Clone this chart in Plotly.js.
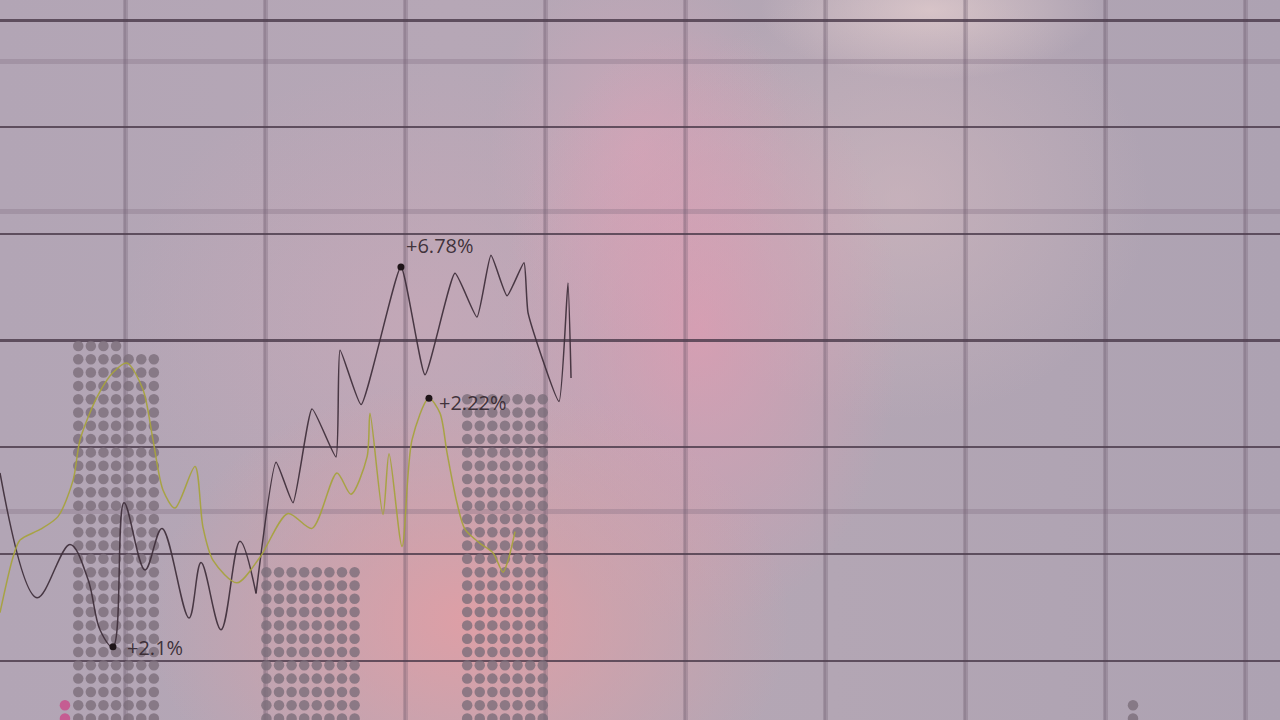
<!DOCTYPE html>
<html>
<head>
<meta charset="utf-8">
<script src="https://cdn.plot.ly/plotly-3.0.1.min.js"></script>
<style>
  html, body { margin: 0; padding: 0; background: #b0a4b2; overflow: hidden; }
  #chart {
    width: 1280px; height: 720px;
    background:
      radial-gradient(ellipse 170px 70px at 930px 10px, rgba(230,208,208,0.7), rgba(230,208,208,0) 100%),
      radial-gradient(ellipse 320px 240px at 470px 620px, rgba(226,158,164,0.9), rgba(226,158,164,0) 100%),
      radial-gradient(ellipse 200px 300px at 700px 330px, rgba(224,156,178,0.75), rgba(224,156,178,0) 100%),
      radial-gradient(ellipse 150px 200px at 640px 150px, rgba(222,166,186,0.55), rgba(222,166,186,0) 100%),
      radial-gradient(ellipse 250px 220px at 900px 200px, rgba(214,186,192,0.55), rgba(214,186,192,0) 100%),
      radial-gradient(ellipse 300px 260px at 420px 320px, rgba(208,168,184,0.5), rgba(208,168,184,0) 100%),
      linear-gradient(90deg, #b2a5b5 0%, #b6a7b6 35%, #b3a6b4 65%, #ada2b2 100%);
  }
</style>
</head>
<body>
<div id="chart"></div>
<script>
// ---- data (time in minutes, value in %) ----
const darkTime = [-8.93, -6.29, -3.93, -2.64, -1.79, -0.86, -0.07, 1.43, 2.64, 4.57, 5.43, 6.86, 8.21, 9.36,
                  10.79, 12.00, 13.36, 15.07, 15.36, 16.86, 19.71, 21.43, 23.57, 25.14, 26.14, 27.29, 28.50, 28.79, 31.00, 31.64, 31.86];
const darkValue = [1.76, 0.59, 1.09, 0.76, 0.29, 0.13, 1.48, 0.85, 1.24, 0.40, 0.92, 0.29, 1.12, 0.63,
                   1.86, 1.48, 2.36, 1.91, 2.91, 2.40, 3.69, 2.68, 3.63, 3.22, 3.80, 3.42, 3.73, 3.26, 2.43, 3.54, 2.65];

const yellowTime = [-8.93, -8.00, -7.50, -6.07, -4.79, -3.71, -3.21, -2.00, -0.86, 0.14, 1.29, 2.00, 2.71, 3.57, 5.00, 5.57, 6.29, 8.00,
                    9.64, 11.64, 13.36, 15.14, 16.14, 17.29, 17.50, 18.43, 18.86, 19.79, 20.50, 21.71, 22.50, 23.00, 23.71, 24.29,
                    25.36, 26.29, 27.00, 27.36, 27.86];
const yellowValue = [0.45, 0.97, 1.13, 1.23, 1.35, 1.69, 2.07, 2.47, 2.70, 2.79, 2.54, 2.07, 1.60, 1.43, 1.82, 1.25, 0.94, 0.73,
                     0.97, 1.38, 1.24, 1.76, 1.56, 1.91, 2.32, 1.37, 1.94, 1.07, 2.07, 2.46, 2.32, 1.95, 1.48, 1.23,
                     1.10, 1.01, 0.83, 0.94, 1.21];

// callouts: which series / which point / label
const calloutSeries = ['dark', 'yellow', 'dark'];
const calloutIndex = [20, 29, 5];
const calloutText = ['+6.78%', '+2.22%', '+2.1%'];

// volume columns drawn as dot stacks
const volTime = [-4.29, -0.64, 13.25, 27.14, 72.0];
const volDots = [2, 200, 96, 175, 2];
const volCols = [1, 7, 8, 7, 1];
const volKind = ['accent', 'base', 'base', 'base', 'base'];

// faint band lines (value positions)
const bandLines = [5.62, 4.214, 1.402];

// ---- styling ----
const DARK = 'rgba(62,46,58,0.92)';
const YELLOW = 'rgba(166,162,62,0.95)';
const DOT_BASE = 'rgba(124,110,122,0.8)';
const DOT_ACCENT = 'rgba(200,80,140,0.85)';
const dotDx = 0.9, dotDy = 0.1247, dotBase = -0.542;

const traces = [];

// dot stacks
volTime.forEach((c, i) => {
  const xs = [], ys = [];
  for (let k = 0; k < volDots[i]; k++) {
    const row = Math.floor(k / volCols[i]);
    const col = k % volCols[i];
    xs.push(c + (col - (volCols[i] - 1) / 2) * dotDx);
    ys.push(dotBase + row * dotDy);
  }
  traces.push({
    type: 'scatter', mode: 'markers', x: xs, y: ys, hoverinfo: 'skip',
    marker: { size: 10.5, color: volKind[i] === 'accent' ? DOT_ACCENT : DOT_BASE, line: { width: 0 } },
    cliponaxis: true
  });
});

// dark series: smooth left half, sharper right half
const splitAt = 13;
traces.push({
  type: 'scatter', mode: 'lines', x: darkTime.slice(0, splitAt + 1), y: darkValue.slice(0, splitAt + 1),
  line: { color: DARK, width: 1.5, shape: 'spline', smoothing: 1.0 }, hoverinfo: 'skip'
});
traces.push({
  type: 'scatter', mode: 'lines', x: darkTime.slice(splitAt), y: darkValue.slice(splitAt),
  line: { color: DARK, width: 1.5, shape: 'spline', smoothing: 0.45 }, hoverinfo: 'skip'
});
traces.push({
  type: 'scatter', mode: 'lines', x: yellowTime, y: yellowValue,
  line: { color: YELLOW, width: 1.5, shape: 'spline', smoothing: 0.8 }, hoverinfo: 'skip'
});

// callout points
const cx = [], cy = [];
calloutSeries.forEach((s, i) => {
  const tx = s === 'dark' ? darkTime : yellowTime;
  const vy = s === 'dark' ? darkValue : yellowValue;
  cx.push(tx[calloutIndex[i]]); cy.push(vy[calloutIndex[i]]);
});
traces.push({
  type: 'scatter', mode: 'markers', x: cx, y: cy, hoverinfo: 'skip',
  marker: { size: 7, color: '#1e1418' }
});

const annShift = [[3, 21], [8, -4], [12, -1]];
const annotations = calloutText.map((t, i) => ({
  x: cx[i], y: cy[i], xref: 'x', yref: 'y', text: t, showarrow: false,
  xanchor: 'left', yanchor: 'middle', xshift: annShift[i][0], yshift: annShift[i][1],
  font: { family: 'Open Sans, sans-serif', size: 20, color: 'rgba(48,36,44,0.9)' }
}));

const xr = [-8.929, 82.5];
const yr = [-0.5558, 6.192];

const layout = {
  width: 1280, height: 720,
  margin: { l: 0, r: 0, t: 0, b: 0, pad: 0 },
  paper_bgcolor: 'rgba(0,0,0,0)', plot_bgcolor: 'rgba(0,0,0,0)',
  showlegend: false,
  xaxis: { range: xr, tick0: 0, dtick: 10, showgrid: true, gridcolor: 'rgba(105,85,105,0.26)', gridwidth: 5,
           zeroline: false, showticklabels: false, ticks: '', showline: false, fixedrange: true },
  xaxis2: { range: xr, overlaying: 'x', tick0: 0, dtick: 10, showgrid: true, gridcolor: 'rgba(95,75,95,0.18)', gridwidth: 2,
            zeroline: false, showticklabels: false, ticks: '', showline: false },
  yaxis: { range: yr, tick0: 0, dtick: 1, showgrid: true, gridcolor: 'rgba(72,56,72,0.8)', gridwidth: 2.4,
           zeroline: false, showticklabels: false, ticks: '', showline: false, fixedrange: true },
  yaxis2: { range: yr, overlaying: 'y', tickmode: 'array', tickvals: bandLines, showgrid: true,
            gridcolor: 'rgba(125,105,125,0.3)', gridwidth: 5,
            zeroline: false, showticklabels: false, ticks: '', showline: false },
  annotations: annotations
};

// dummy trace to activate secondary axes for their gridlines
traces.unshift({ type: 'scatter', mode: 'none', x: xr, y: yr, xaxis: 'x2', yaxis: 'y2', hoverinfo: 'skip' });

Plotly.newPlot('chart', traces, layout, { staticPlot: true, displayModeBar: false });
</script>
</body>
</html>
